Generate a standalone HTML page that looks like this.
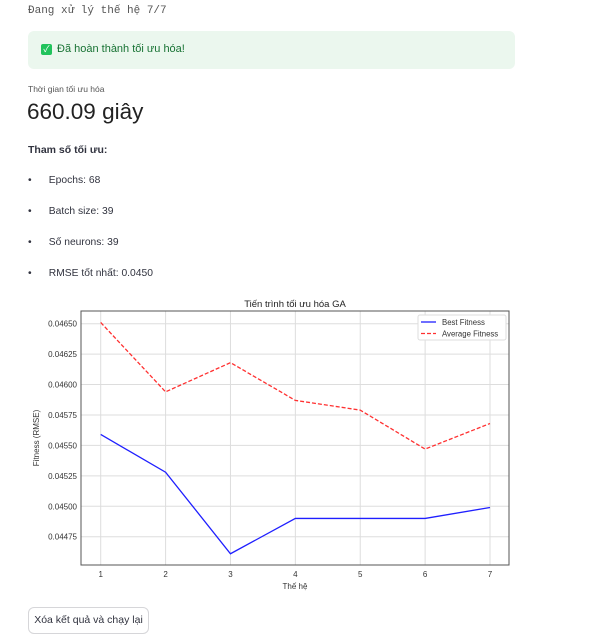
<!DOCTYPE html>
<html><head><meta charset="utf-8">
<style>
body{margin:0;width:602px;height:640px;background:#fff;position:relative;overflow:hidden;font-family:"Liberation Sans","Noto Sans CJK SC",sans-serif;color:#31333f}
.a{position:absolute;white-space:nowrap}
</style></head><body>
<div class="a" style="left:28px;top:5px;font-family:'Liberation Mono',monospace;font-size:11px;color:#555">Đang xử lý thế hệ 7/7</div>
<div class="a" style="left:28px;top:31px;width:487px;height:38px;background:#ebf7ee;border-radius:6px"></div>
<div class="a" style="left:41px;top:44px;width:11px;height:11px;background:#21c35c;border-radius:2px;color:#fff;font-size:9px;line-height:11px;text-align:center">✓</div>
<div class="a" style="left:57px;top:43px;font-size:11px;color:#177233">Đã hoàn thành tối ưu hóa!</div>
<div class="a" style="left:28px;top:84px;font-size:8.5px;color:#555">Thời gian tối ưu hóa</div>
<div class="a" style="left:27px;top:99px;font-size:22.5px;color:#222">660.09 giây</div>
<div class="a" style="left:28px;top:144px;font-size:10.5px;font-weight:bold">Tham số tối ưu:</div>
<div class="a" style="left:28px;top:175px;font-size:10.3px">•&nbsp;&nbsp;&nbsp;&nbsp;&nbsp;&nbsp;Epochs: 68</div>
<div class="a" style="left:28px;top:206px;font-size:10.3px">•&nbsp;&nbsp;&nbsp;&nbsp;&nbsp;&nbsp;Batch size: 39</div>
<div class="a" style="left:28px;top:237px;font-size:10.3px">•&nbsp;&nbsp;&nbsp;&nbsp;&nbsp;&nbsp;Số neurons: 39</div>
<div class="a" style="left:28px;top:268px;font-size:10.3px">•&nbsp;&nbsp;&nbsp;&nbsp;&nbsp;&nbsp;RMSE tốt nhất: 0.0450</div>
<svg class="a" style="left:0;top:0" width="602" height="640" id="chart"></svg>
<div class="a" style="left:28px;top:607px;width:119px;height:25px;border:1px solid #d6d6d9;border-radius:6px;font-size:10.5px;line-height:25px;text-align:center;color:#31333f">Xóa kết quả và chạy lại</div>
<script>
const generations=[1,2,3,4,5,6,7];
const bestFitness=[0.04559,0.04528,0.04461,0.04490,0.04490,0.04490,0.04499];
const avgFitness=[0.04651,0.04594,0.04618,0.04587,0.04579,0.04547,0.04568];
const yTicks=[0.04475,0.04500,0.04525,0.04550,0.04575,0.04600,0.04625,0.04650];
const svg=document.getElementById('chart');const NS='http://www.w3.org/2000/svg';
const L=81,R=509,T=311,B=565;
const xs=v=>100.7+(v-1)*(490-100.7)/6;
const ys=v=>323.7+(0.04650-v)*(536.7-323.7)/0.00175;
function mk(t,a,txt){const e=document.createElementNS(NS,t);for(const k in a)e.setAttribute(k,a[k]);if(txt!==undefined)e.textContent=txt;svg.appendChild(e);return e;}
yTicks.forEach(v=>{const y=ys(v);
const g=mk('line',{x1:L,x2:R,y1:y,y2:y,stroke:'#ddd','stroke-width':1});


const t=mk('text',{x:L-4,y:y+3,'text-anchor':'end','font-size':8,fill:'#333','font-family':'Liberation Sans'},v.toFixed(5));

});
generations.forEach(g=>{const x=xs(g);
const l=mk('line',{x1:x,x2:x,y1:T,y2:B,stroke:'#ddd','stroke-width':1});


const t=mk('text',{x:x,y:B+12,'text-anchor':'middle','font-size':8,fill:'#333','font-family':'Liberation Sans'},g);

});
const fr=mk('rect',{x:L,y:T,width:R-L,height:B-T,fill:'none',stroke:'#555','stroke-width':1});


const p1=mk('polyline',{points:generations.map((g,i)=>xs(g)+','+ys(bestFitness[i])).join(' '),fill:'none',stroke:'#1f1fff','stroke-width':1.3});


const p2=mk('polyline',{points:generations.map((g,i)=>xs(g)+','+ys(avgFitness[i])).join(' '),fill:'none',stroke:'#ff3030','stroke-width':1.3,'stroke-dasharray':'4,2'});


const ti=mk('text',{x:295,y:307,'text-anchor':'middle','font-size':9.5,fill:'#222','font-family':'Liberation Sans'},'Tiến trình tối ưu hóa GA');


const xt=mk('text',{x:295,y:589,'text-anchor':'middle','font-size':8,fill:'#333','font-family':'Liberation Sans'},'Thế hệ');


const yt=mk('text',{x:0,y:0,'text-anchor':'middle','font-size':8,fill:'#333','font-family':'Liberation Sans',transform:'translate(39,438) rotate(-90)'},'Fitness (RMSE)');


const lg=mk('rect',{x:418,y:315,width:88,height:25,fill:'#fff',stroke:'#ddd','stroke-width':1,rx:2});


mk('line',{x1:421,x2:436,y1:322,y2:322,stroke:'#1f1fff','stroke-width':1.3});
mk('line',{x1:421,x2:436,y1:333.5,y2:333.5,stroke:'#ff3030','stroke-width':1.3,'stroke-dasharray':'4,2'});
const l1=mk('text',{x:442,y:325,'font-size':7.8,fill:'#333','font-family':'Liberation Sans'},'Best Fitness');


const l2=mk('text',{x:442,y:336.5,'font-size':7.8,fill:'#333','font-family':'Liberation Sans'},'Average Fitness');


</script>
</body></html>
